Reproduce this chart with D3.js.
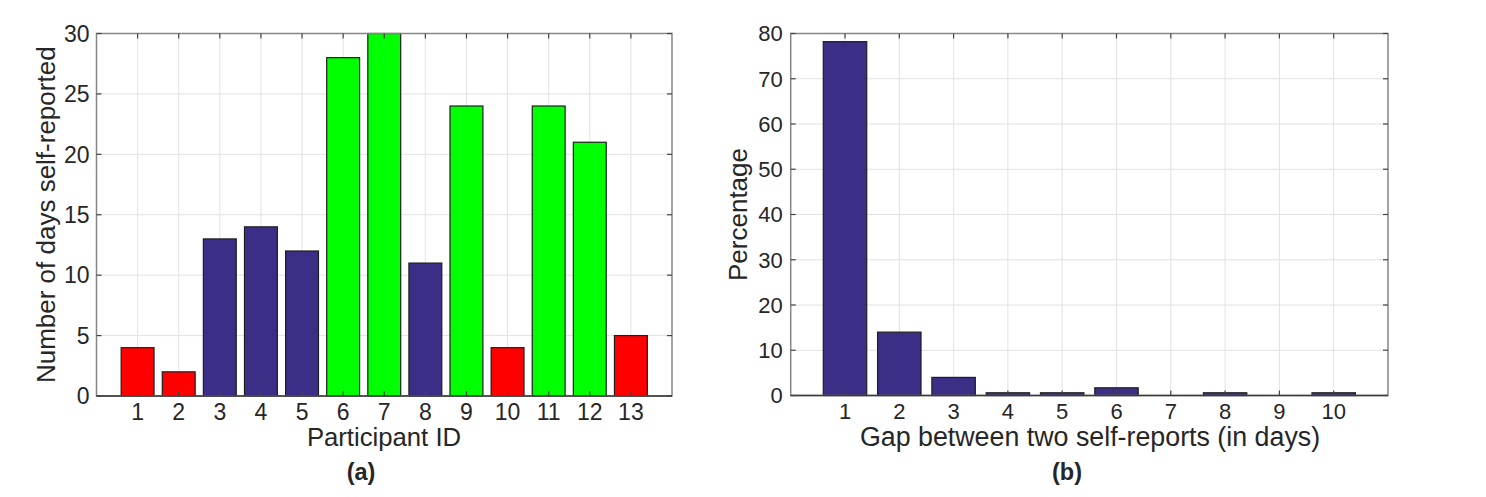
<!DOCTYPE html>
<html>
<head>
<meta charset="utf-8">
<script src="https://cdn.jsdelivr.net/npm/d3@7"></script>
<style>
  html, body { margin: 0; padding: 0; background: #fff; }
  svg { display: block; }
  text { font-family: "Liberation Sans", Arial, Helvetica, sans-serif; fill: #262626; }
</style>
</head>
<body>
<svg id="chart" width="1486" height="497"></svg>
<script>
// ---------- Data ----------
const participantIds = [1, 2, 3, 4, 5, 6, 7, 8, 9, 10, 11, 12, 13];
const daysReported   = [4, 2, 13, 14, 12, 28, 30, 11, 24, 4, 24, 21, 5];
const participantGroup = ["low","low","mid","mid","mid","high","high","mid","high","low","high","high","low"];
const yTicksA = [0, 5, 10, 15, 20, 25, 30];

const gapDays    = [1, 2, 3, 4, 5, 6, 7, 8, 9, 10];
const gapPercent = [78.2, 14, 4, 0.6, 0.6, 1.7, 0, 0.6, 0, 0.6];
const yTicksB = [0, 10, 20, 30, 40, 50, 60, 70, 80];

const groupColor = { low: "#ff0000", mid: "#3b2e86", high: "#00ff00" };

// ---------- Drawing ----------
const svg = d3.select("#chart");

function panel(cfg) {
  const g = svg.append("g");
  const x = d3.scaleLinear().domain(cfg.xDomain).range([cfg.left, cfg.right]);
  const y = d3.scaleLinear().domain(cfg.yDomain).range([cfg.bottom, cfg.top]);
  const unit = x(1) - x(0);
  const barW = unit * 0.8;

  // grid
  g.append("g").selectAll("line.gx").data(cfg.xTicks).join("line")
    .attr("x1", d => x(d)).attr("x2", d => x(d))
    .attr("y1", cfg.top).attr("y2", cfg.bottom)
    .attr("stroke", "#e2e2e2").attr("stroke-width", 1);
  g.append("g").selectAll("line.gy").data(cfg.yTicks).join("line")
    .attr("x1", cfg.left).attr("x2", cfg.right)
    .attr("y1", d => y(d)).attr("y2", d => y(d))
    .attr("stroke", "#e2e2e2").attr("stroke-width", 1);

  // bars
  g.append("g").selectAll("rect").data(cfg.xs).join("rect")
    .attr("x", d => x(d) - barW / 2)
    .attr("width", barW)
    .attr("y", (d, i) => y(cfg.values[i]))
    .attr("height", (d, i) => y(0) - y(cfg.values[i]))
    .attr("fill", (d, i) => cfg.color(i))
    .attr("stroke", "#1e1e1e").attr("stroke-width", 1.2);

  // box
  const boxColor = "#868686";
  g.append("rect")
    .attr("x", cfg.left).attr("y", cfg.top)
    .attr("width", cfg.right - cfg.left).attr("height", cfg.bottom - cfg.top)
    .attr("fill", "none").attr("stroke", boxColor).attr("stroke-width", 1.5);
  g.append("line")
    .attr("x1", cfg.left).attr("x2", cfg.right)
    .attr("y1", cfg.bottom).attr("y2", cfg.bottom)
    .attr("stroke", "#3a3a3a").attr("stroke-width", 1.5);

  // inside ticks
  const tl = 5;
  cfg.xTicks.forEach(t => {
    g.append("line").attr("x1", x(t)).attr("x2", x(t)).attr("y1", cfg.top).attr("y2", cfg.top + tl)
      .attr("stroke", "#444").attr("stroke-width", 1.2);
    g.append("line").attr("x1", x(t)).attr("x2", x(t)).attr("y1", cfg.bottom).attr("y2", cfg.bottom - tl)
      .attr("stroke", "#444").attr("stroke-width", 1.2);
  });
  cfg.yTicks.forEach(t => {
    g.append("line").attr("x1", cfg.left).attr("x2", cfg.left + tl).attr("y1", y(t)).attr("y2", y(t))
      .attr("stroke", "#444").attr("stroke-width", 1.2);
    g.append("line").attr("x1", cfg.right).attr("x2", cfg.right - tl).attr("y1", y(t)).attr("y2", y(t))
      .attr("stroke", "#444").attr("stroke-width", 1.2);
  });

  // tick labels
  g.append("g").selectAll("text").data(cfg.xTicks).join("text")
    .attr("x", d => x(d)).attr("y", cfg.xTickBaseline)
    .attr("text-anchor", "middle").attr("font-size", cfg.tickSize)
    .text(d => d);
  g.append("g").selectAll("text").data(cfg.yTicks).join("text")
    .attr("x", cfg.left - cfg.yTickGap).attr("y", d => y(d))
    .attr("dy", "0.36em")
    .attr("text-anchor", "end").attr("font-size", cfg.tickSize)
    .text(d => d);

  // axis labels
  g.append("text")
    .attr("x", cfg.xLabelX).attr("y", cfg.xLabelBaseline)
    .attr("text-anchor", "middle").attr("font-size", cfg.xLabelSize)
    .text(cfg.xLabel);
  g.append("text")
    .attr("transform", `translate(${cfg.yLabelBaseline},${(cfg.top + cfg.bottom) / 2}) rotate(-90)`)
    .attr("text-anchor", "middle").attr("font-size", cfg.yLabelSize)
    .text(cfg.yLabel);

  // panel caption
  g.append("text")
    .attr("x", cfg.captionX).attr("y", 480)
    .attr("text-anchor", "middle").attr("font-size", 23.5).attr("font-weight", "bold")
    .text(cfg.caption);
}

panel({
  left: 96.5, right: 672, top: 33.5, bottom: 396,
  xDomain: [0, 14], yDomain: [0, 30],
  xs: participantIds, values: daysReported,
  color: i => groupColor[participantGroup[i]],
  xTicks: participantIds, yTicks: yTicksA,
  tickSize: 23, xTickBaseline: 420, yTickGap: 7,
  xLabelSize: 25.7, yLabelSize: 26,
  xLabel: "Participant ID", xLabelX: 384, xLabelBaseline: 446,
  yLabel: "Number of days self-reported", yLabelBaseline: 55,
  caption: "(a)", captionX: 361
});

panel({
  left: 790.7, right: 1388, top: 33.5, bottom: 395.5,
  xDomain: [0, 11], yDomain: [0, 80],
  xs: gapDays, values: gapPercent,
  color: () => groupColor.mid,
  xTicks: gapDays, yTicks: yTicksB,
  tickSize: 22, xTickBaseline: 419, yTickGap: 8,
  xLabelSize: 26.8, yLabelSize: 26,
  xLabel: "Gap between two self-reports (in days)", xLabelX: 1090, xLabelBaseline: 446,
  yLabel: "Percentage", yLabelBaseline: 747,
  caption: "(b)", captionX: 1067
});
</script>
</body>
</html>
